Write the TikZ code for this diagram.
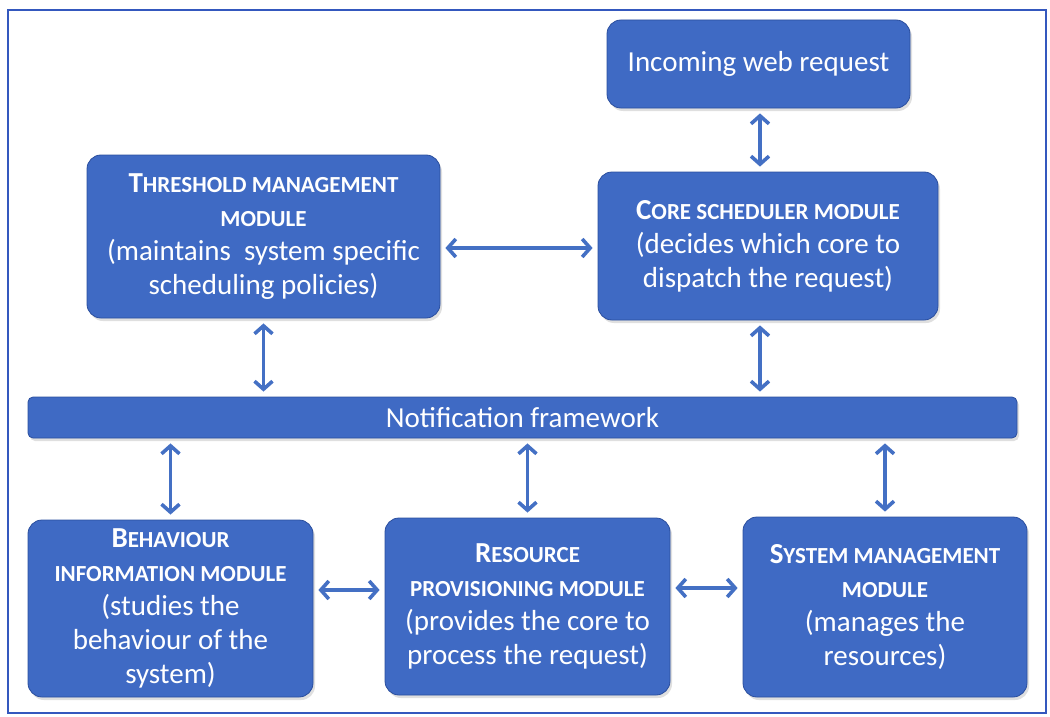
\documentclass[tikz,border=0pt]{standalone}
\usepackage{fontspec}
\setmainfont{Carlito}
\usetikzlibrary{arrows.meta,shadows}
\definecolor{boxblue}{RGB}{63,106,196}
\definecolor{boxedge}{RGB}{42,78,158}
\definecolor{arrowblue}{RGB}{68,112,196}
\definecolor{frameblue}{RGB}{52,88,190}
% small capitals made by hand: the rest of a word in smaller upper case
\newcommand{\smc}[1]{{\fontsize{23}{24}\selectfont #1}}
\tikzset{
  module/.style={draw=boxedge, line width=0.8pt, fill=boxblue, rounded corners=14pt,
    text=white, align=center, font=\fontsize{29}{34}\selectfont,
    drop shadow={opacity=0.25, shadow xshift=2pt, shadow yshift=-3pt},
    inner sep=0pt},
  link/.style={draw=arrowblue, line width=3.6pt,
    {Straight Barb[length=8pt,width=18pt,line width=3.6pt]}-{Straight Barb[length=8pt,width=18pt,line width=3.6pt]},
    shorten <=5pt, shorten >=5pt}
}
\begin{document}
\begin{tikzpicture}[x=1pt,y=-1pt]
\useasboundingbox (0,0) rectangle (1050,717);
\draw[frameblue, line width=2pt] (8,10) rectangle (1046,713);

\node[module, minimum width=303pt, minimum height=88pt] (inc) at (758.5,64) {Incoming web request};
\node[module, minimum width=340pt, minimum height=148pt] (core) at (768,246)
  {\textbf{C\smc{ORE SCHEDULER MODULE}}\\(decides which core to\\dispatch the request)};
\node[module, minimum width=353pt, minimum height=163pt] (thr) at (263.5,236.5)
  {\textbf{T\smc{HRESHOLD MANAGEMENT}}\\\textbf{\smc{MODULE}}\\(maintains\ \ system specific\\scheduling policies)};
\node[module, rounded corners=5pt, minimum width=989pt, minimum height=41pt] (notif) at (522.5,417.5)
  {Notification framework};
\node[module, minimum width=285pt, minimum height=177pt] (beh) at (170.5,608.5)
  {\textbf{B\smc{EHAVIOUR}}\\\textbf{\smc{INFORMATION MODULE}}\\(studies the\\behaviour of the\\system)};
\node[module, minimum width=285pt, minimum height=177pt] (res) at (527.5,606.5)
  {\textbf{R\smc{ESOURCE}}\\\textbf{\smc{PROVISIONING MODULE}}\\(provides the core to\\process the request)};
\node[module, minimum width=284pt, minimum height=180pt] (sys) at (885,607)
  {\textbf{S\smc{YSTEM MANAGEMENT}}\\\textbf{\smc{MODULE}}\\(manages the\\resources)};

\coordinate (cx) at (760,0);
\coordinate (ty) at (0,248);
\coordinate (by) at (0,590);
\coordinate (ry) at (0,588);

\draw[link] (inc.south -| cx) -- (core.north -| cx);
\draw[link] (thr.east |- ty) -- (core.west |- ty);
\draw[link] (thr.south) -- (thr.south |- notif.north);
\draw[link] (core.south -| cx) -- (notif.north -| cx);
\draw[link] (notif.south -| beh.north) -- (beh.north);
\draw[link] (notif.south -| res.north) -- (res.north);
\draw[link] (notif.south -| sys.north) -- (sys.north);
\draw[link] (beh.east |- by) -- (res.west |- by);
\draw[link] (res.east |- ry) -- (sys.west |- ry);
\end{tikzpicture}
\end{document}
